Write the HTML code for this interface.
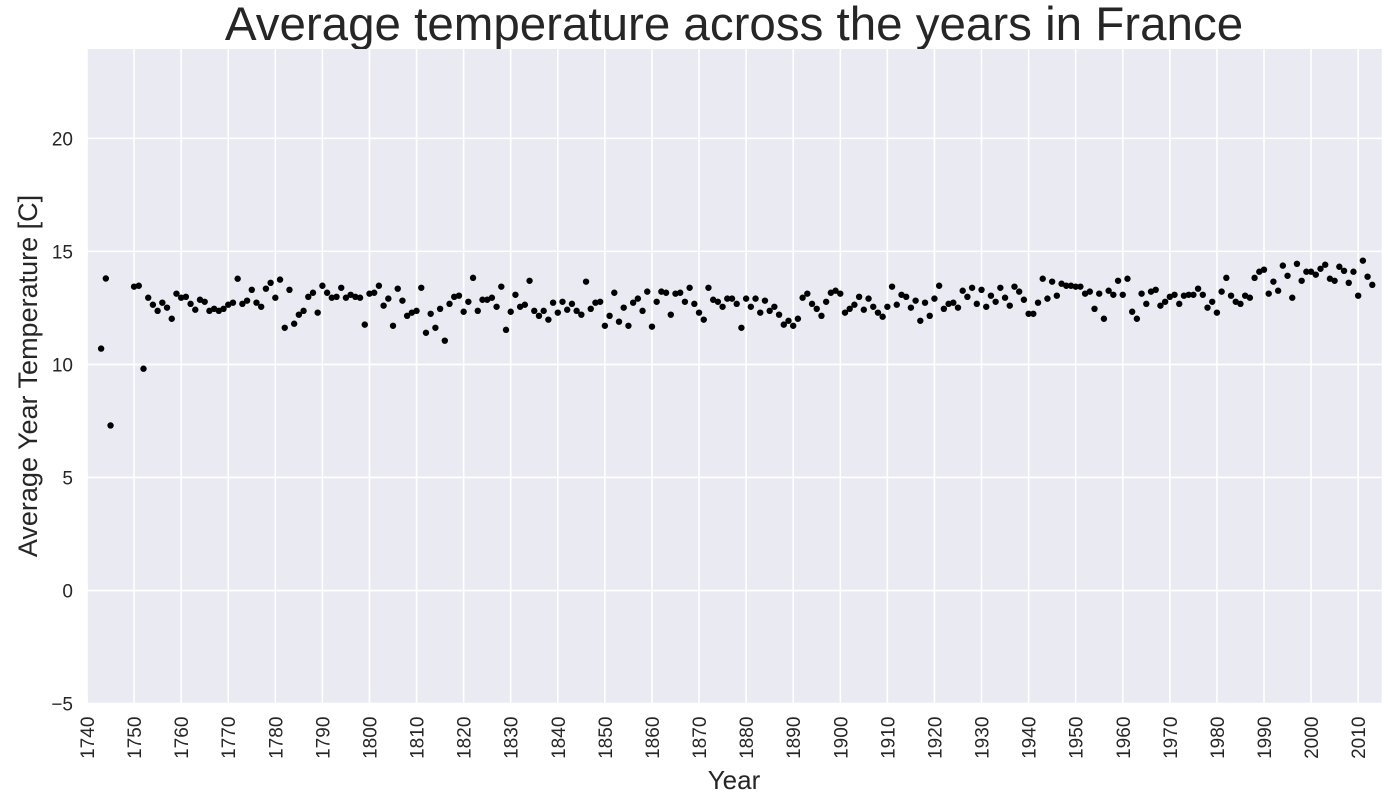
<!DOCTYPE html>
<html><head><meta charset="utf-8"><style>
html,body{margin:0;padding:0;background:#fff;}
svg{display:block;font-family:"Liberation Sans",Arial,sans-serif;}
</style></head><body>
<svg id="chart" width="1400" height="800" viewBox="0 0 1400 800">
<text x="734" y="40" font-size="47.5" fill="#262626" text-anchor="middle">Average temperature across the years in France</text>
<rect x="87" y="49" width="1294.7" height="654.6" fill="#eaeaf2"/>
<g id="grid"></g>
<g id="ticks"></g>
<g id="points"></g>
<text x="0" y="0" font-size="27" fill="#262626" text-anchor="middle" transform="translate(37,376) rotate(-90)">Average Year Temperature [C]</text>
<text x="734" y="789" font-size="26" fill="#262626" text-anchor="middle">Year</text>
</svg>
<script>
const years = [1743,1744,1745];
for (let y = 1750; y <= 2013; y++) years.push(y);
const temps = [10.7,13.8,7.3,
13.44,13.48,9.81,12.95,12.64,12.37,12.73,12.51,12.02,13.13,
12.95,12.99,12.68,12.42,12.86,12.77,12.37,12.46,12.37,12.46,
12.64,12.73,13.79,12.68,12.82,13.30,12.73,12.55,13.35,13.61,
12.95,13.75,11.62,13.30,11.80,12.20,12.37,12.99,13.17,12.29,
13.48,13.17,12.95,12.99,13.39,12.95,13.08,12.99,12.95,11.76,
13.13,13.17,13.48,12.60,12.91,11.71,13.35,12.82,12.15,12.29,
12.37,13.39,11.40,12.24,11.62,12.46,11.05,12.68,12.99,13.04,
12.33,12.77,13.83,12.37,12.86,12.86,12.95,12.55,13.44,11.53,
12.33,13.08,12.55,12.64,13.70,12.37,12.15,12.37,11.98,12.73,
12.29,12.77,12.42,12.68,12.37,12.20,13.66,12.46,12.73,12.77,
11.71,12.15,13.17,11.89,12.51,11.71,12.73,12.91,12.37,13.22,
11.67,12.77,13.22,13.17,12.20,13.13,13.17,12.77,13.39,12.68,
12.29,11.98,13.39,12.86,12.77,12.55,12.91,12.91,12.68,11.62,
12.91,12.55,12.91,12.29,12.82,12.37,12.55,12.20,11.76,11.93,
11.71,12.02,12.95,13.13,12.68,12.46,12.15,12.77,13.17,13.26,
13.13,12.29,12.46,12.64,12.99,12.42,12.91,12.55,12.29,12.11,
12.55,13.44,12.64,13.08,12.99,12.51,12.82,11.93,12.73,12.15,
12.91,13.48,12.46,12.68,12.73,12.51,13.26,12.99,13.39,12.68,
13.30,12.55,13.04,12.77,13.39,12.95,12.60,13.44,13.22,12.86,
12.24,12.24,12.73,13.79,12.91,13.66,13.04,13.57,13.48,13.48,
13.44,13.44,13.13,13.22,12.46,13.13,12.02,13.26,13.08,13.70,
13.08,13.79,12.33,12.02,13.13,12.68,13.22,13.30,12.60,12.77,
12.99,13.08,12.68,13.04,13.08,13.08,13.35,13.08,12.51,12.77,
12.29,13.22,13.83,13.04,12.77,12.68,13.04,12.95,13.83,14.10,
14.19,13.13,13.66,13.26,14.37,13.92,12.95,14.45,13.70,14.10,
14.10,13.97,14.23,14.41,13.79,13.70,14.32,14.14,13.61,14.10,
13.04,14.59,13.88,13.52];
const xTicks = [];
for (let t = 1740; t <= 2010; t += 10) xTicks.push(t);
const yTicks = [-5,0,5,10,15,20];

const X0=87, X1=1381.7, Y0=703.6, Y1=49;
const xMin=1740, xMax=2015, yMin=-5, yMax=23.95;
const sx = v => X0 + (v-xMin)/(xMax-xMin)*(X1-X0);
const sy = v => Y0 - (v-yMin)/(yMax-yMin)*(Y0-Y1);
const NS='http://www.w3.org/2000/svg';
const grid=document.getElementById('grid'), ticks=document.getElementById('ticks'), pts=document.getElementById('points');
function mk(tag, attrs){const e=document.createElementNS(NS,tag);for(const k in attrs)e.setAttribute(k,attrs[k]);return e;}
xTicks.forEach(t=>{
  const l=mk('line',{x1:sx(t),x2:sx(t),y1:Y1,y2:Y0,stroke:'#fff','stroke-width':1.6});
  
  
  grid.appendChild(l);
  const tx=mk('text',{'font-size':19,fill:'#262626','text-anchor':'end',transform:`translate(${sx(t)+7},${Y0+13}) rotate(-90)`});
  tx.textContent=t;
  
  
  ticks.appendChild(tx);
});
yTicks.forEach(t=>{
  const l=mk('line',{x1:X0,x2:X1,y1:sy(t),y2:sy(t),stroke:'#fff','stroke-width':1.6});
  
  
  grid.appendChild(l);
  const tx=mk('text',{x:73,y:sy(t)+7,'font-size':19,fill:'#262626','text-anchor':'end'});
  tx.textContent=t<0?'\u2212'+Math.abs(t):t;
  
  
  ticks.appendChild(tx);
});
years.forEach((yr,i)=>{
  const c=mk('circle',{cx:sx(yr),cy:sy(temps[i]),r:3.2,fill:'#000'});
  
  
  pts.appendChild(c);
});
</script>
</body></html>
